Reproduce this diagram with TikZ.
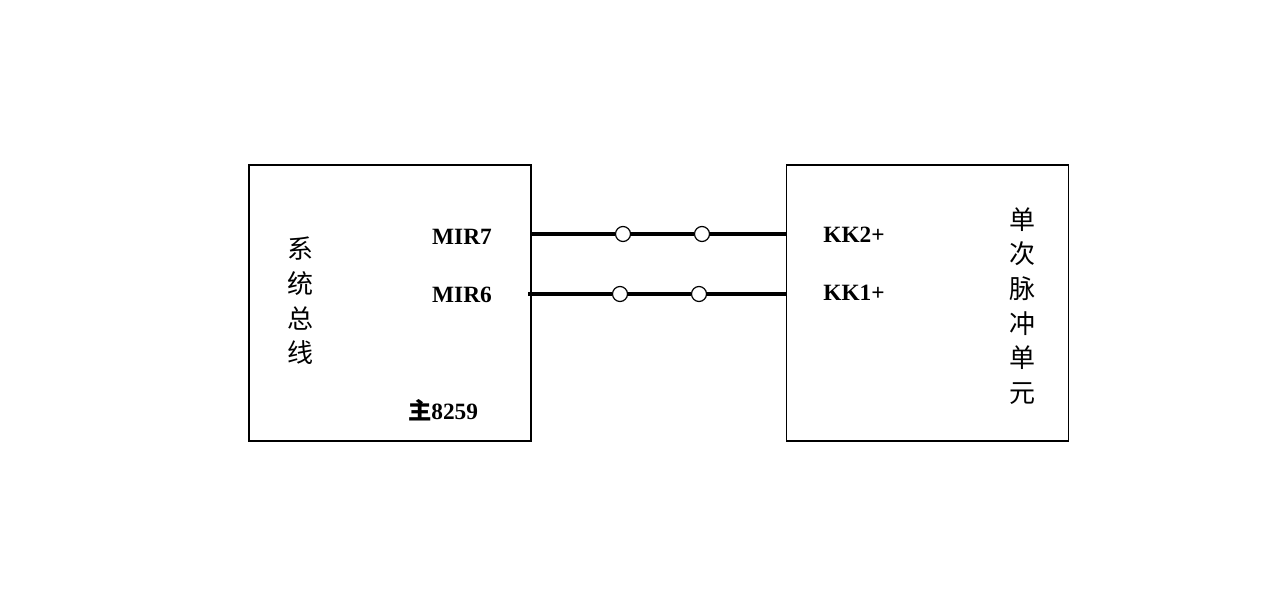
\documentclass[tikz,border=0pt]{standalone}
\usepackage{fontspec}
\setmainfont{Liberation Serif}
\newfontfamily\cjk{Noto Sans CJK SC}
\usetikzlibrary{positioning}
\tikzset{
  unit/.style={draw,line width=0.9pt,minimum width=282*0.75pt,minimum height=276*0.75pt,inner sep=0pt},
  pin/.style={font=\bfseries\fontsize{17.5}{20}\selectfont,inner sep=0pt},
  cjklabel/.style={font=\cjk\fontsize{19.5}{26}\selectfont,align=center,inner sep=0pt},
  wire/.style={line width=3pt},
  joint/.style={circle,draw,fill=white,line width=0.9pt,minimum size=15*0.75pt,inner sep=0pt}
}
\begin{document}
\begin{tikzpicture}[x=0.75pt,y=-0.75pt]
\useasboundingbox (0,0) rectangle (1280,599);

\node[unit] (bus) at (390,303) {};
\node[unit] (pulse) at (927.5,303) {};

\node[cjklabel] (busname) at (300,301) {系\\统\\总\\线};
\node[cjklabel] (pulsename) at (1022,306) {单\\次\\脉\\冲\\单\\元};

\node[pin] (mir7) at (462,237) {MIR7};
\node[pin] (mir6) at (462,295) {MIR6};
\node[pin] (master) at (443,410) {{\cjk 主}8259};
\node[pin] (kk2) at (854,235) {KK2+};
\node[pin] (kk1) at (854,293) {KK1+};

\coordinate (a7) at (531,234);
\coordinate (b7) at (786,234);
\coordinate (a6) at (528,294);
\coordinate (b6) at (786,294);

\node[joint] (c71) at (623,234) {};
\node[joint] (c72) at (702,234) {};
\node[joint] (c61) at (620,294) {};
\node[joint] (c62) at (699,294) {};

\draw[wire] (a7) -- (c71) (c71) -- (c72) (c72) -- (b7);
\draw[wire] (a6) -- (c61) (c61) -- (c62) (c62) -- (b6);
\end{tikzpicture}
\end{document}
